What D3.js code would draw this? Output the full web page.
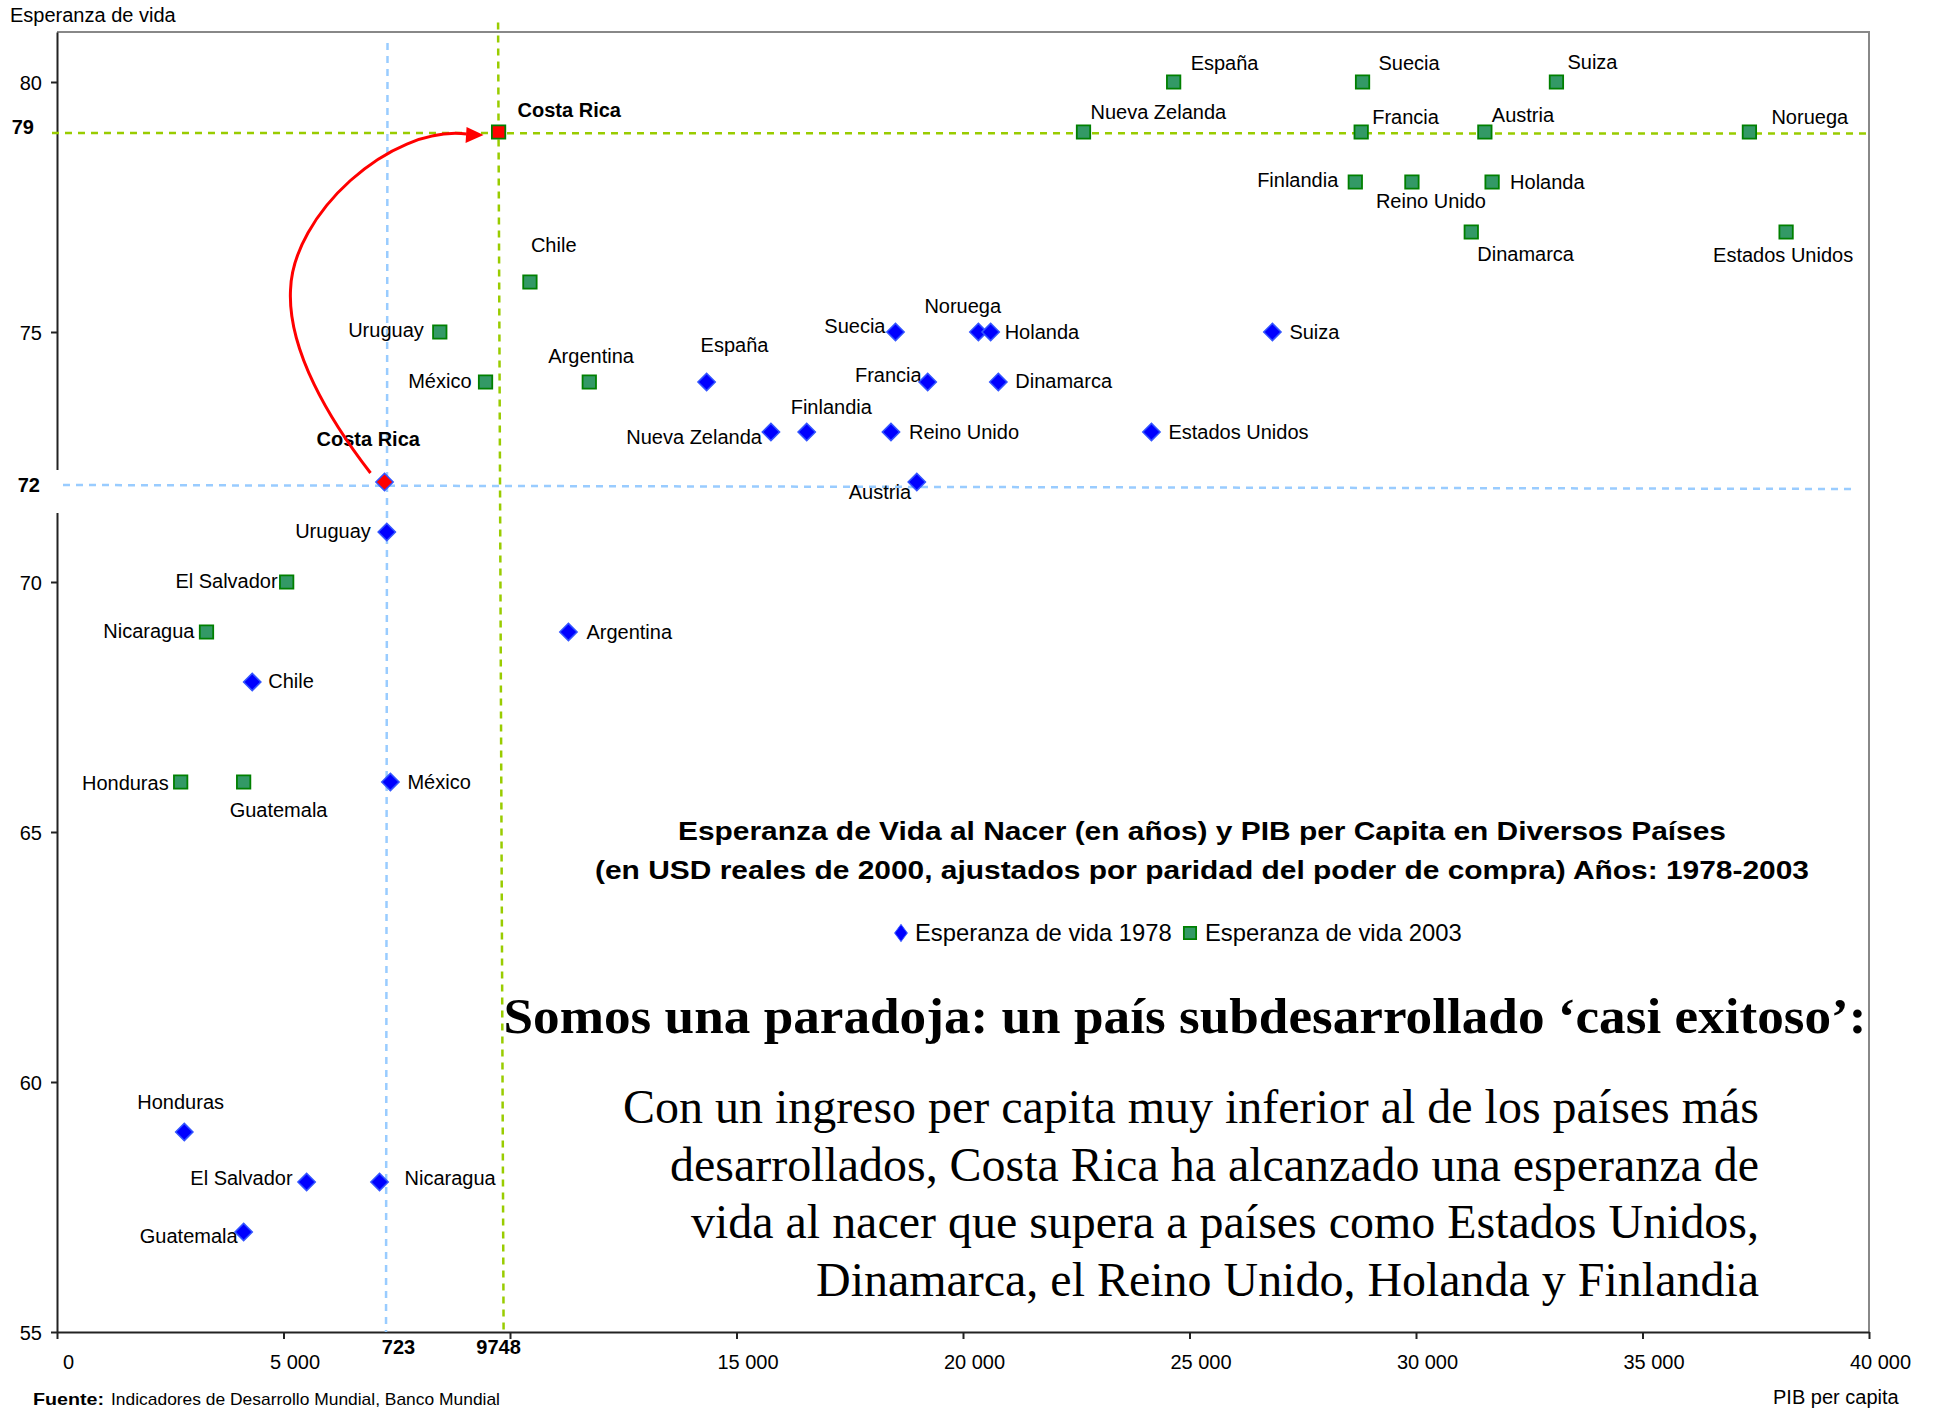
<!DOCTYPE html>
<html>
<head>
<meta charset="utf-8">
<script src="https://cdn.jsdelivr.net/npm/d3@7"></script>
<style>
  body { margin: 0; background: #fff; }
  text { font-family: "Liberation Sans", Arial, sans-serif; }
  .serif { font-family: "Liberation Serif", "Times New Roman", serif; }
</style>
</head>
<body>
<script>
'use strict';
(function () {
  // --- data ---
  let countries = ["Costa Rica", "Chile", "Uruguay", "México", "Argentina", "El Salvador", "Nicaragua",
    "Honduras", "Guatemala", "España", "Suecia", "Suiza", "Nueva Zelanda", "Francia", "Austria",
    "Noruega", "Finlandia", "Reino Unido", "Holanda", "Dinamarca", "Estados Unidos"];
  let gdp1978 = [7230, 4310, 7280, 7360, 11290, 5510, 7120, 2810, 4120, 14340, 18510, 26830, 15760,
    19220, 18980, 20340, 16550, 18410, 20610, 20780, 24160];
  let life1978 = [72, 68, 71, 66, 69, 58, 58, 59, 57, 74, 75, 75, 73, 74, 72, 75, 73, 73, 75, 74, 73];
  let gdp2003 = [9748, 10440, 8450, 9460, 11750, 5070, 3300, 2730, 4120, 24650, 28820, 33100, 22660,
    28790, 31520, 37360, 28660, 29910, 31680, 31220, 38170];
  let life2003 = [79, 76, 75, 74, 74, 70, 69, 66, 66, 80, 80, 80, 79, 79, 79, 79, 78, 78, 78, 77, 77];
  let xTicks = [0, 5000, 10000, 15000, 20000, 25000, 30000, 35000, 40000];
  let yTicks = [55, 60, 65, 70, 75, 80];
  let crGdp = [7230, 9748];   // Costa Rica reference values
  let crLife = [72, 79];
  let crGdpLabels = ["723", "9748"];

  // label placement (anchor, dx, dy) per point, same order as countries
  let lab1978 = [["start", -68, -43], ["start", 16, -1], ["end", -16, -1], ["start", 17, 0], ["start", 18, 0],
    ["end", -14, -4], ["start", 25, -4], ["start", -47, -30], ["end", -6, 4], ["start", -6, -37],
    ["end", -10, -6], ["start", 17, 0], ["end", -9, 5], ["end", -6, -7], ["start", -68, 10],
    ["start", -54, -26], ["start", -16, -25], ["start", 18, 0], ["start", 14, 0], ["start", 17, -1],
    ["start", 17, 0]];
  let lab2003 = [["start", 19, -22], ["start", 1, -37], ["end", -16, -2], ["end", -14, -1], ["start", -41, -26],
    ["end", -9, -1], ["end", -12, -1], ["end", -12, 1], ["start", -14, 28], ["start", 17, -19],
    ["start", 16, -19], ["start", 11, -20], ["start", 7, -20], ["start", 11, -15], ["start", 7, -17],
    ["start", 22, -15], ["end", -17, -2], ["start", -36, 19], ["start", 18, 0], ["start", 6, 22],
    ["start", -73, 23]];

  let blue = "#0000ff", green = "#339966";
  let fmt = d3.formatLocale({ decimal: ",", thousands: " ", grouping: [3], currency: ["", ""] }).format(",");

  let svg = d3.select("body").append("svg").attr("width", 1936).attr("height", 1409);

  let x = d3.scaleLinear().domain([0, 40000]).range([57, 1869]);
  let y = d3.scaleLinear().domain([55, 81]).range([1332, 32]);

  // frame (top / right in grey)
  svg.append("path")
    .attr("d", "M" + x(0) + "," + y(81) + "H" + x(40000) + "V" + y(55))
    .attr("fill", "none").attr("stroke", "#888").attr("stroke-width", 2);

  let xAxis = d3.axisBottom(x).tickValues(xTicks).tickSize(7).tickSizeOuter(0)
    .tickFormat((d) => d === 10000 ? "" : fmt(d));
  let gx = svg.append("g").attr("transform", "translate(0," + y(55) + ")").call(xAxis);
  gx.selectAll("text").attr("y", 30).attr("dy", "0.35em").attr("dx", 11)
    .style("font-size", "20px").style("font-family", "Liberation Sans, Arial, sans-serif");

  let yAxis = d3.axisLeft(y).tickValues(yTicks).tickSize(6).tickSizeOuter(0);
  let gy = svg.append("g").attr("transform", "translate(" + x(0) + ",0)").call(yAxis);
  gy.selectAll("text").attr("x", -15).attr("dy", "0.35em")
    .style("font-size", "20px").style("font-family", "Liberation Sans, Arial, sans-serif");
  svg.selectAll(".domain, .tick line").attr("stroke", "#222").attr("stroke-width", 2);

  // white box behind the "72" label cuts the y axis
  svg.append("rect").attr("x", 0).attr("y", y(72) - 12).attr("width", 62).attr("height", 43).attr("fill", "#fff");

  // reference lines for Costa Rica
  let refLines = [
    { x1: x(0) + 6, y1: y(crLife[0]) + 3, x2: x(40000) - 13, y2: y(crLife[0]) + 7, c: "#99ccff" },
    { x1: x(crGdp[0]) + 3, y1: y(81) + 11, x2: x(crGdp[0]) + 1.5, y2: y(55), c: "#99ccff" },
    { x1: x(0) - 5, y1: y(crLife[1]) + 1, x2: x(40000), y2: y(crLife[1]) + 1.5, c: "#99cc00" },
    { x1: x(crGdp[1]) - 0.5, y1: y(81) - 9.5, x2: x(crGdp[1]) + 5, y2: y(55) - 2, c: "#99cc00" }
  ];
  svg.selectAll(".ref").data(refLines).enter().append("line")
    .attr("x1", (d) => d.x1).attr("y1", (d) => d.y1)
    .attr("x2", (d) => d.x2).attr("y2", (d) => d.y2)
    .attr("stroke", (d) => d.c).attr("stroke-width", 2.5)
    .attr("stroke-dasharray", "7,6");

  // bold reference values on the axes
  svg.append("text").attr("x", 40).attr("y", y(crLife[0]) + 3).attr("text-anchor", "end")
    .attr("dy", "0.35em").style("font-size", "20px").style("font-weight", "bold").text(crLife[0]);
  svg.append("text").attr("x", 34).attr("y", y(crLife[1]) - 5).attr("text-anchor", "end")
    .attr("dy", "0.35em").style("font-size", "20px").style("font-weight", "bold").text(crLife[1]);
  crGdp.forEach((g, i) => {
    svg.append("text").attr("x", x(g) + (i === 0 ? 14 : 0)).attr("y", y(55) + 15).attr("text-anchor", "middle")
      .attr("dy", "0.35em").style("font-size", "20px").style("font-weight", "bold").text(crGdpLabels[i]);
  });

  // point labels
  function labels(gdp, life, lab) {
    svg.append("g").selectAll("text").data(countries).enter().append("text")
      .attr("x", (d, i) => x(gdp[i]) + lab[i][1])
      .attr("y", (d, i) => y(life[i]) + lab[i][2])
      .attr("text-anchor", (d, i) => lab[i][0])
      .attr("dy", "0.35em")
      .style("font-size", "20px")
      .style("font-weight", (d) => d === "Costa Rica" ? "bold" : "normal")
      .text((d) => d);
  }
  labels(gdp1978, life1978, lab1978);
  labels(gdp2003, life2003, lab2003);

  // markers
  let diamond = d3.symbol().type(d3.symbolSquare).size(150);
  let square = d3.symbol().type(d3.symbolSquare).size(180);
  svg.append("g").selectAll("path").data(countries).enter().append("path")
    .attr("d", diamond)
    .attr("transform", (d, i) => "translate(" + x(gdp1978[i]) + "," + y(life1978[i]) + ") rotate(45)")
    .attr("fill", (d) => d === "Costa Rica" ? "#ff0000" : blue)
    .attr("stroke", "#3355ff").attr("stroke-width", 1.5);
  svg.append("g").selectAll("path").data(countries).enter().append("path")
    .attr("d", square)
    .attr("transform", (d, i) => "translate(" + x(gdp2003[i]) + "," + y(life2003[i]) + ")")
    .attr("fill", (d) => d === "Costa Rica" ? "#ff0000" : green)
    .attr("stroke", "#008000").attr("stroke-width", 1.8);

  // red arrow from 1978 to 2003
  let p0 = [x(crGdp[0]), y(crLife[0])], p1 = [x(crGdp[1]), y(crLife[1])];
  let arrow = d3.path();
  arrow.moveTo(p0[0] - 14, p0[1] - 9);
  arrow.bezierCurveTo(p0[0] - 55, p0[1] - 62, p0[0] - 97, p0[1] - 132, p0[0] - 94, p0[1] - 192);
  arrow.bezierCurveTo(p0[0] - 92, p0[1] - 267, p1[0] - 109, p1[1] - 7, p1[0] - 32, p1[1] + 2);
  svg.append("path").attr("d", arrow.toString()).attr("fill", "none")
    .attr("stroke", "#ff0000").attr("stroke-width", 3);
  svg.append("path")
    .attr("d", "M" + (p1[0] - 15) + "," + (p1[1] + 3) + "L" + (p1[0] - 32) + "," + (p1[1] - 5) +
      "L" + (p1[0] - 33) + "," + (p1[1] + 11) + "Z")
    .attr("fill", "#ff0000");

  // titles
  svg.append("text").attr("x", 10).attr("y", 15).attr("dy", "0.35em").style("font-size", "20px").text("Esperanza de vida");
  svg.append("text").attr("x", 1773).attr("y", 1397).attr("dy", "0.35em").style("font-size", "20px").text("PIB per capita");
  svg.append("text").attr("x", 33).attr("y", 1399).attr("dy", "0.35em").style("font-size", "17px")
    .style("font-weight", "bold").attr("textLength", 71).attr("lengthAdjust", "spacingAndGlyphs").text("Fuente:");
  svg.append("text").attr("x", 111).attr("y", 1399).attr("dy", "0.35em").style("font-size", "17px")
    .attr("textLength", 389).attr("lengthAdjust", "spacingAndGlyphs").text("Indicadores de Desarrollo Mundial, Banco Mundial");

  let titleLines = ["Esperanza de Vida al Nacer (en años) y PIB per Capita en Diversos Países",
    "(en USD reales de 2000, ajustados por paridad del poder de compra) Años: 1978-2003"];
  let titleW = [1048, 1214];
  titleLines.forEach((t, i) => {
    svg.append("text").attr("x", 1202).attr("y", 831 + i * 39).attr("dy", "0.35em")
      .attr("text-anchor", "middle").style("font-size", "26px").style("font-weight", "bold")
      .attr("textLength", titleW[i]).attr("lengthAdjust", "spacingAndGlyphs").text(t);
  });

  // legend
  let lg = svg.append("g");
  lg.append("path").attr("d", d3.symbol().type(d3.symbolSquare).size(110))
    .attr("transform", "translate(901,933) scale(0.85,1.15) rotate(45)").attr("fill", blue).attr("stroke", "#3355ff");
  lg.append("text").attr("x", 915).attr("y", 933).attr("dy", "0.35em").style("font-size", "23.8px").text("Esperanza de vida 1978");
  lg.append("path").attr("d", d3.symbol().type(d3.symbolSquare).size(150))
    .attr("transform", "translate(1190,933)").attr("fill", green).attr("stroke", "#008000").attr("stroke-width", 1.8);
  lg.append("text").attr("x", 1205).attr("y", 933).attr("dy", "0.35em").style("font-size", "23.8px").text("Esperanza de vida 2003");

  // commentary
  svg.append("text").attr("class", "serif").attr("x", 1185).attr("y", 1015).attr("dy", "0.35em")
    .attr("text-anchor", "middle").style("font-size", "50px").style("font-weight", "bold")
    .attr("textLength", 1363).attr("lengthAdjust", "spacingAndGlyphs")
    .text("Somos una paradoja: un país subdesarrollado ‘casi exitoso’:");
  let para = ["Con un ingreso per capita muy inferior al de los países más",
    "desarrollados, Costa Rica ha alcanzado una esperanza de",
    "vida al nacer que supera a países como Estados Unidos,",
    "Dinamarca, el Reino Unido, Holanda y Finlandia"];
  let paraW = [1136, 1089, 1068, 943];
  para.forEach((t, i) => {
    svg.append("text").attr("class", "serif").attr("x", 1759).attr("y", 1106 + i * 57.7).attr("dy", "0.35em")
      .attr("text-anchor", "end").style("font-size", "48px")
      .attr("textLength", paraW[i]).attr("lengthAdjust", "spacingAndGlyphs").text(t);
  });
})();
</script>
</body>
</html>
